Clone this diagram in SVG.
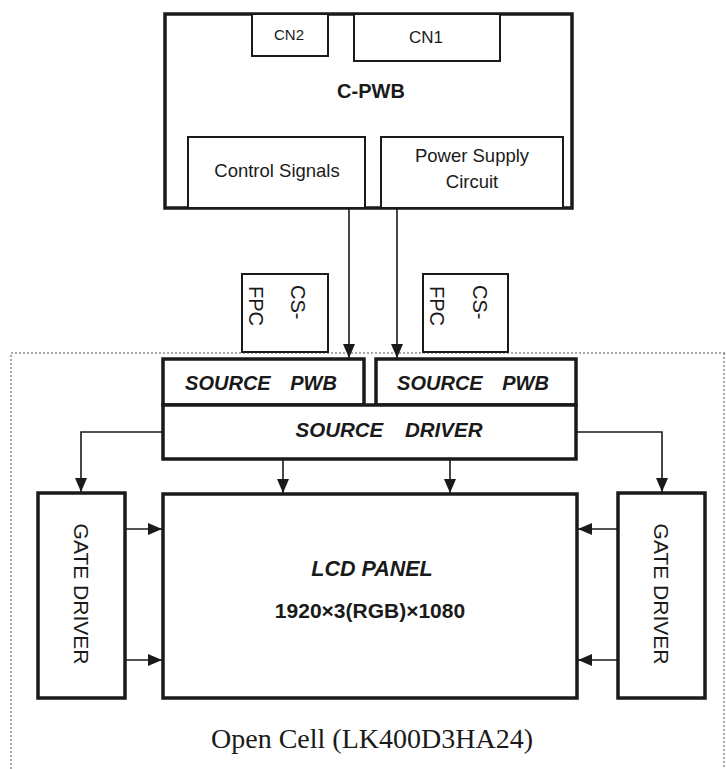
<svg xmlns="http://www.w3.org/2000/svg" width="726" height="769" viewBox="0 0 726 769">
<defs>
<marker id="ah" viewBox="0 0 14 12" refX="14" refY="6" markerWidth="14" markerHeight="12" markerUnits="userSpaceOnUse" orient="auto">
<path d="M0,0 L14,6 L0,12 Z" fill="#1a1a1a"/>
</marker>
<style>
.thick{fill:#fff;stroke:#1a1a1a;stroke-width:3.5}
.thin{fill:#fff;stroke:#1a1a1a;stroke-width:2}
.t{font-family:"Liberation Sans",Arial,sans-serif;fill:#1a1a1a}
.b{font-weight:bold}
.bi{font-weight:bold;font-style:italic}
.conn{fill:none;stroke:#1a1a1a;stroke-width:1.6;marker-end:url(#ah)}
.dot{fill:none;stroke:#555;stroke-width:1;stroke-dasharray:2,2}
</style>
</defs>
<rect width="726" height="769" fill="#fff"/>

<g id="open-cell-border">
<path class="dot" d="M11,769 L11,353 L726,353"/>
<path class="dot" d="M724,353 L724,769"/>
</g>

<g id="c-pwb">
<rect class="thick" x="165" y="14" width="407" height="194"/>
<text class="t b" x="371" y="98" font-size="20" text-anchor="middle">C-PWB</text>
</g>
<g id="cn2">
<rect class="thin" x="252" y="14" width="76" height="42"/>
<text class="t" x="289" y="40" font-size="15" text-anchor="middle">CN2</text>
</g>
<g id="cn1">
<rect class="thin" x="354" y="14" width="146" height="47"/>
<text class="t" x="426" y="43" font-size="17" text-anchor="middle">CN1</text>
</g>
<g id="control-signals">
<rect class="thin" x="188" y="137" width="177" height="71"/>
<text class="t" x="277" y="177" font-size="18.5" text-anchor="middle">Control Signals</text>
</g>
<g id="power-supply">
<rect class="thin" x="381" y="137" width="182" height="71"/>
<text class="t" x="472" y="162" font-size="18.5" text-anchor="middle">Power Supply</text>
<text class="t" x="472" y="188" font-size="18.5" text-anchor="middle">Circuit</text>
</g>

<g id="cs-fpc-left">
<rect class="thin" x="242" y="274" width="86" height="78"/>
<text class="t" font-size="20" transform="translate(291,285) rotate(90)">CS-</text>
<text class="t" font-size="20" transform="translate(249,286) rotate(90)">FPC</text>
</g>
<g id="cs-fpc-right">
<rect class="thin" x="423" y="274" width="85" height="78"/>
<text class="t" font-size="20" transform="translate(473,285) rotate(90)">CS-</text>
<text class="t" font-size="20" transform="translate(430,286) rotate(90)">FPC</text>
</g>

<g id="source-pwb-left">
<rect class="thick" x="163" y="359" width="201" height="46"/>
<text class="t bi" x="261" y="390" font-size="20" text-anchor="middle">SOURCE<tspan dx="14"> PWB</tspan></text>
</g>
<g id="source-pwb-right">
<rect class="thick" x="376" y="359" width="200" height="46"/>
<text class="t bi" x="473" y="390" font-size="20" text-anchor="middle">SOURCE<tspan dx="14"> PWB</tspan></text>
</g>
<g id="source-driver">
<rect class="thick" x="163" y="405" width="413" height="54"/>
<text class="t bi" x="389" y="437" font-size="20.5" text-anchor="middle">SOURCE<tspan dx="16"> DRIVER</tspan></text>
</g>

<g id="gate-driver-left">
<rect class="thick" x="38" y="493" width="87" height="205"/>
<text class="t" font-size="21" text-anchor="middle" transform="translate(74,594) rotate(90)">GATE DRIVER</text>
</g>
<g id="lcd-panel">
<rect class="thick" x="163" y="494" width="414" height="204"/>
<text class="t bi" x="372" y="576" font-size="21.5" text-anchor="middle">LCD PANEL</text>
<text class="t b" x="370" y="618" font-size="21" text-anchor="middle">1920×3(RGB)×1080</text>
</g>
<g id="gate-driver-right">
<rect class="thick" x="618" y="493" width="87" height="205"/>
<text class="t" font-size="21" text-anchor="middle" transform="translate(654,594) rotate(90)">GATE DRIVER</text>
</g>

<g id="connectors">
<path class="conn" d="M349,208 L349,358"/>
<path class="conn" d="M397,208 L397,358"/>
<path class="conn" d="M163,432 L81,432 L81,492"/>
<path class="conn" d="M576,432 L662,432 L662,492"/>
<path class="conn" d="M283,459 L283,493"/>
<path class="conn" d="M450,459 L450,493"/>
<path class="conn" d="M125,529 L162,529"/>
<path class="conn" d="M125,660 L162,660"/>
<path class="conn" d="M618,529 L578,529"/>
<path class="conn" d="M618,660 L578,660"/>
</g>

<g id="caption">
<text x="372" y="748" font-family="'Liberation Serif','Times New Roman',serif" font-size="28" fill="#1a1a1a" text-anchor="middle">Open Cell (LK400D3HA24)</text>
</g>
</svg>
